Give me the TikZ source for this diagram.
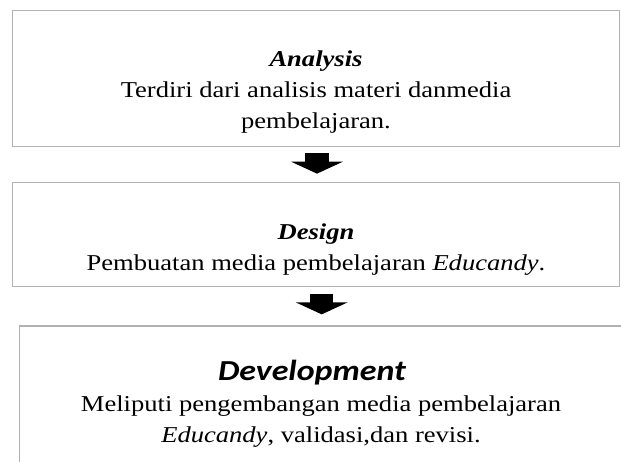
\documentclass[tikz,border=0pt]{standalone}
\usepackage{fontspec}
\setmainfont{Liberation Serif}[FakeStretch=1.17]
\newfontfamily\calibrifont{Carlito}[FakeStretch=1.17]
\usetikzlibrary{arrows.meta,calc}
\definecolor{boxgray}{RGB}{178,178,178}
\tikzset{
  stagebox/.style={draw=boxgray, line width=1.3pt, inner sep=0pt},
  stagetext/.style={align=center, font=\fontsize{22.7}{31}\selectfont, anchor=base},
  flowarrow/.style={line width=23.5pt, -{Triangle[length=12pt,width=51.5pt]}},
}
\begin{document}
\begin{tikzpicture}[x=1pt,y=-1pt]
\useasboundingbox (0,0) rectangle (621,461);
% boxes
\node[stagebox, minimum width=607pt, minimum height=136.2pt] (analysis) at (316,78.6) {};
\node[stagebox, minimum width=607pt, minimum height=104pt] (design) at (316,234.7) {};
\node[stagebox, minimum width=640.5pt, minimum height=174pt] (development) at (339.75,413) {};
% texts (base = last line)
\node[stagetext] (analysis text) at (316,128) {\textbf{\textit{Analysis}}\\Terdiri dari analisis materi danmedia\\pembelajaran.};
\node[stagetext] (design text) at (316,270) {\textbf{\textit{Design}}\\Pembuatan media pembelajaran \textit{Educandy}.};
\node[stagetext] (development text) at (321,442) {{\calibrifont\fontsize{29}{31}\selectfont\bfseries\itshape Development\hspace*{18pt}}\\Meliputi pengembangan media pembelajaran\\\textit{Educandy}, validasi,dan revisi.};
% arrows
\draw[flowarrow] ($(analysis.south)+(1,5.3)$) -- ($(design.north)+(1,-8.4)$);
\draw[flowarrow] ($(design.south)+(5.7,6.6)$) -- ($(design.south |- development.north)+(5.7,-11)$);
\end{tikzpicture}
\end{document}
